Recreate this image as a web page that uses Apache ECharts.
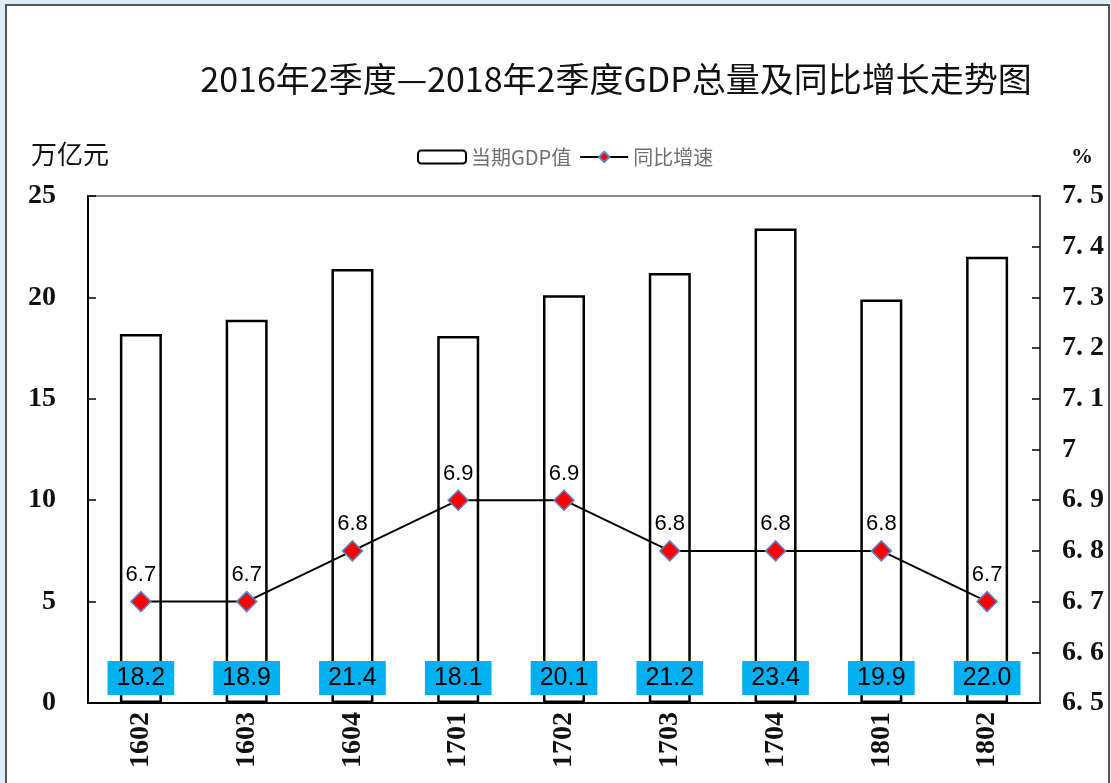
<!DOCTYPE html>
<html>
<head>
<meta charset="utf-8">
<script src="https://cdn.jsdelivr.net/npm/echarts@6/dist/echarts.min.js"></script>
<style>
html,body{margin:0;padding:0;background:#dcedf6;}
#chart{width:1111px;height:783px;}
</style>
</head>
<body>
<div id="chart"></div>
<script>
var categories = ['1602','1603','1604','1701','1702','1703','1704','1801','1802'];
var gdpValues = [18.2, 18.9, 21.4, 18.1, 20.1, 21.2, 23.4, 19.9, 22.0];
var growthValues = [6.7, 6.7, 6.8, 6.9, 6.9, 6.8, 6.8, 6.8, 6.7];
var titleText = '2016年2季度—2018年2季度GDP总量及同比增长走势图';
var seriesNames = ['当期GDP值', '同比增速'];

var chart = echarts.init(document.getElementById('chart'), null, {renderer: 'canvas'});
var serifAxis = {fontFamily: '"Liberation Serif", "DejaVu Serif", serif', fontWeight: 'bold', fontSize: 28, color: '#111'};

chart.setOption({
  backgroundColor: '#dcedf6',
  animation: false,
  title: {
    text: titleText,
    left: 611, top: 57, textAlign: 'center',
    textStyle: {fontFamily: '"Noto Sans CJK SC", sans-serif', fontWeight: 'normal', fontSize: 34, color: '#111'}
  },
  legend: {
    data: seriesNames,
    left: 412, top: 142,
    itemWidth: 48, itemHeight: 13, itemGap: 8,
    textStyle: {fontFamily: '"Noto Sans CJK SC", sans-serif', fontSize: 20, color: '#707070'}
  },
  graphic: [
    {type: 'rect', z: -100, silent: true, shape: {x: 6, y: 5, width: 1103, height: 790}, style: {fill: '#fff', stroke: '#555', lineWidth: 2}},
    {type: 'text', left: 31, top: 141, style: {text: '万亿元', font: '26px "Noto Sans CJK SC", sans-serif', fill: '#111'}},
    {type: 'text', left: 1071, top: 146, style: {text: '%', font: 'bold 22px "Liberation Serif", serif', fill: '#111'}}
  ],
  grid: {
    left: 88, right: 71, top: 196, bottom: 80,
    show: true, borderColor: '#666', borderWidth: 1.5, backgroundColor: 'transparent'
  },
  xAxis: {
    type: 'category',
    data: categories,
    axisLine: {lineStyle: {color: '#000', width: 2}},
    axisTick: {inside: true, length: 7, lineStyle: {color: '#000', width: 1.5}},
    axisLabel: Object.assign({rotate: 90, margin: 9}, serifAxis)
  },
  yAxis: [
    {
      type: 'value', min: 0, max: 25, interval: 5,
      axisLine: {show: true, lineStyle: {color: '#000', width: 2}},
      axisTick: {show: true, inside: true, length: 8, lineStyle: {color: '#000', width: 1.5}},
      splitLine: {show: false},
      axisLabel: Object.assign({margin: 32}, serifAxis)
    },
    {
      type: 'value', min: 6.5, max: 7.5, interval: 0.1,
      position: 'right',
      axisLine: {show: true, lineStyle: {color: '#333', width: 1.5}},
      axisTick: {show: true, inside: true, length: 8, lineStyle: {color: '#000', width: 1.5}},
      splitLine: {show: false},
      axisLabel: Object.assign({margin: 22, formatter: function (v) {
        var r = Math.round(v * 10) / 10;
        if (Math.abs(r - 7) < 1e-9) return '7';
        return r.toFixed(1).replace('.', '. ');
      }}, serifAxis)
    }
  ],
  series: [
    {
      name: seriesNames[0],
      type: 'bar',
      data: gdpValues,
      barWidth: 42,
      z: 2,
      itemStyle: {color: '#fff', borderColor: '#000', borderWidth: 2.5},
      label: {
        show: true, position: 'insideBottom', distance: 8,
        formatter: function (p) { return p.value.toFixed(1); },
        backgroundColor: '#00b0f0', padding: [5, 9, 4, 9],
        fontFamily: '"Liberation Sans", Arial, sans-serif', fontSize: 25, color: '#000'
      }
    },
    {
      name: seriesNames[1],
      type: 'line',
      yAxisIndex: 1,
      data: growthValues,
      z: 3,
      symbol: 'diamond', symbolSize: 20,
      lineStyle: {color: '#000', width: 2},
      itemStyle: {color: '#ff0000', borderColor: '#5b86c5', borderWidth: 1.5},
      label: {
        show: true, position: 'top', distance: 5,
        formatter: function (p) { return p.value.toFixed(1); },
        fontFamily: '"Liberation Sans", Arial, sans-serif', fontSize: 22, color: '#000'
      }
    }
  ]
});
</script>
</body>
</html>
